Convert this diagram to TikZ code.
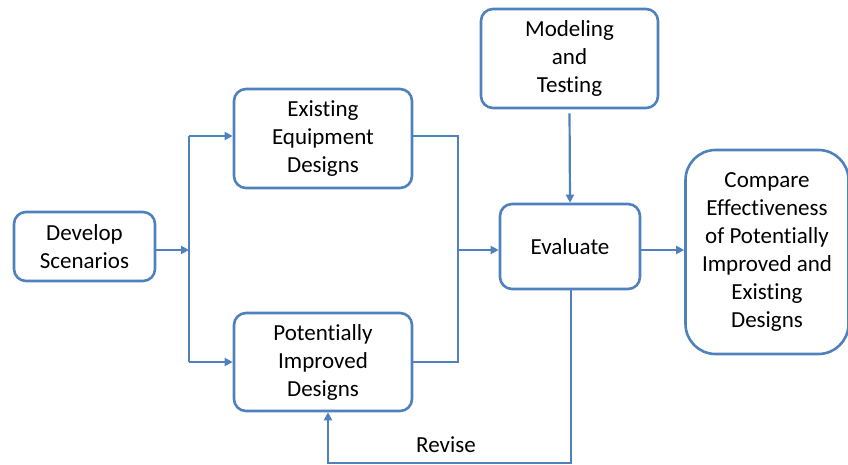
\documentclass[tikz,border=0pt]{standalone}
\usepackage{fontspec}
\setmainfont{Carlito}[Ligatures={NoCommon}]
\usetikzlibrary{arrows.meta}
\definecolor{flowblue}{HTML}{4F81BD}
\begin{document}
\begin{tikzpicture}[x=1pt,y=-1pt,
  box/.style={draw=flowblue, line width=2.6pt, rounded corners=12pt, fill=white,
    align=center, font=\fontsize{23}{28}\selectfont, inner sep=0pt},
  link/.style={draw=flowblue, line width=2.2pt, -{Triangle[length=8pt,width=8pt]}},
  plain/.style={draw=flowblue, line width=2.2pt}]
\useasboundingbox (0,0) rectangle (848,465);
\clip (0,0) rectangle (848,465);

% process boxes
\node[box, minimum width=141pt, minimum height=69pt] (dev) at (84.5,246.5) {Develop\\Scenarios};
\node[box, minimum width=178pt, minimum height=99pt] (exist) at (323,138.5) {Existing\\Equipment\\Designs};
\node[box, minimum width=178pt, minimum height=98pt] (pot) at (323,362) {Potentially\\Improved\\Designs};
\node[box, minimum width=177pt, minimum height=99pt] (model) at (569.5,58.5) {Modeling\\and\\Testing};
\node[box, minimum width=140pt, minimum height=85pt] (eval) at (570,246.5) {Evaluate};
\node[box, rounded corners=30pt, minimum width=163pt, minimum height=204pt] (cmp) at (767,252) {Compare\\Effectiveness\\of Potentially\\Improved and\\Existing\\Designs};

% junction points
\coordinate (mid) at (0,250);
\coordinate (split) at (189,250);
\coordinate (top) at (189,136);
\coordinate (bot) at (189,362);
\coordinate (jtop) at (458,136);
\coordinate (jbot) at (458,362);
\coordinate (merge) at (458,250);
\coordinate (down) at (571,463);
\coordinate (back) at (328,463);

% fan-out from scenarios
\draw[link] (dev.east |- mid) -- (split);
\draw[plain] (top) -- (bot);
\draw[link] (top) -- (exist.west |- top);
\draw[link] (bot) -- (pot.west |- bot);

% merge into evaluation
\draw[plain] (exist.east |- jtop) -- (jtop) -- (jbot) -- (pot.east |- jbot);
\draw[link] (merge) -- (eval.west |- merge);

% modeling input and comparison output
\draw[link, shorten <=4pt] (model.south) -- (eval.north);
\draw[link] (eval.east |- mid) -- (cmp.west |- mid);

% revision loop
\draw[link] (eval.south -| down) -- (down) -- (back) -- (pot.south -| back);
\node[font=\fontsize{23}{28}\selectfont] (revise) at (446,445) {Revise};
\end{tikzpicture}
\end{document}
